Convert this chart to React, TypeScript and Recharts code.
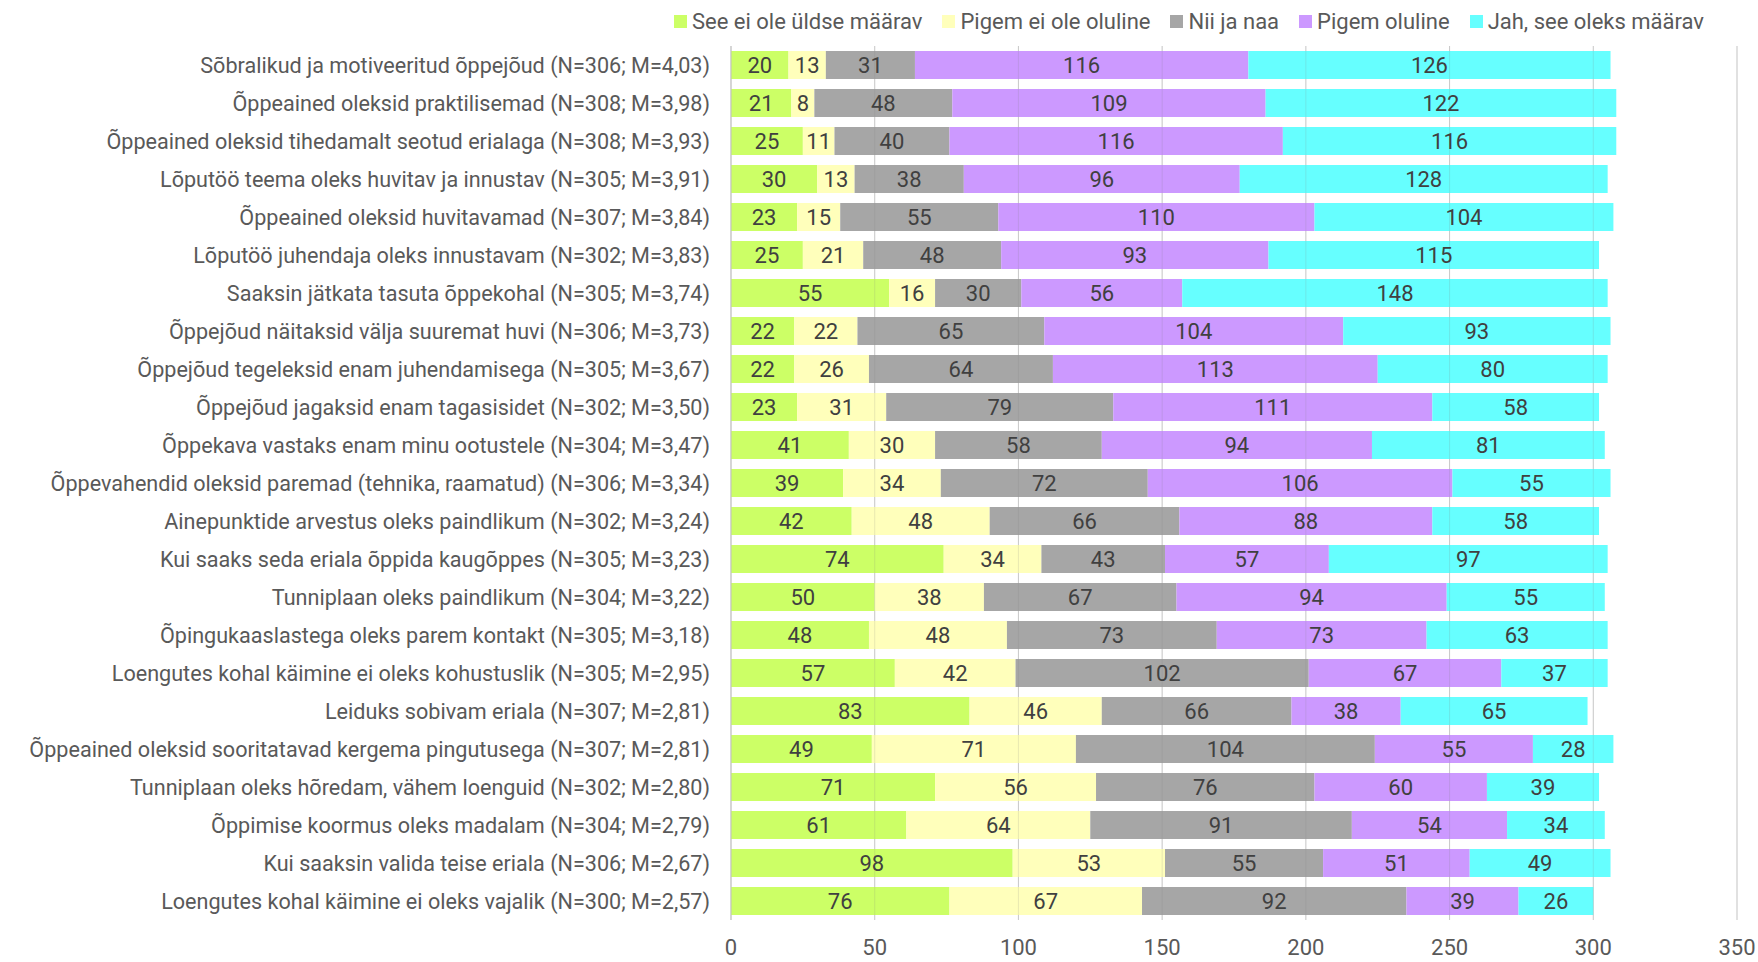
import React from "react";
import {
  Bar,
  BarChart,
  CartesianGrid,
  LabelList,
  ReferenceLine,
  XAxis,
  YAxis,
} from "recharts";

const categories = [
  "Sõbralikud ja motiveeritud õppejõud (N=306; M=4,03)",
  "Õppeained oleksid praktilisemad (N=308; M=3,98)",
  "Õppeained oleksid tihedamalt seotud erialaga (N=308; M=3,93)",
  "Lõputöö teema oleks huvitav ja innustav (N=305; M=3,91)",
  "Õppeained oleksid huvitavamad (N=307; M=3,84)",
  "Lõputöö juhendaja oleks innustavam (N=302; M=3,83)",
  "Saaksin jätkata tasuta õppekohal (N=305; M=3,74)",
  "Õppejõud näitaksid välja suuremat huvi (N=306; M=3,73)",
  "Õppejõud tegeleksid enam juhendamisega (N=305; M=3,67)",
  "Õppejõud jagaksid enam tagasisidet (N=302; M=3,50)",
  "Õppekava vastaks enam minu ootustele (N=304; M=3,47)",
  "Õppevahendid oleksid paremad (tehnika, raamatud) (N=306; M=3,34)",
  "Ainepunktide arvestus oleks paindlikum (N=302; M=3,24)",
  "Kui saaks seda eriala õppida kaugõppes (N=305; M=3,23)",
  "Tunniplaan oleks paindlikum (N=304; M=3,22)",
  "Õpingukaaslastega oleks parem kontakt (N=305; M=3,18)",
  "Loengutes kohal käimine ei oleks kohustuslik (N=305; M=2,95)",
  "Leiduks sobivam eriala (N=307; M=2,81)",
  "Õppeained oleksid sooritatavad kergema pingutusega (N=307; M=2,81)",
  "Tunniplaan oleks hõredam, vähem loenguid (N=302; M=2,80)",
  "Õppimise koormus oleks madalam (N=304; M=2,79)",
  "Kui saaksin valida teise eriala (N=306; M=2,67)",
  "Loengutes kohal käimine ei oleks vajalik (N=300; M=2,57)",
];

const notAtAll = [20, 21, 25, 30, 23, 25, 55, 22, 22, 23, 41, 39, 42, 74, 50, 48, 57, 83, 49, 71, 61, 98, 76];
const ratherNot = [13, 8, 11, 13, 15, 21, 16, 22, 26, 31, 30, 34, 48, 34, 38, 48, 42, 46, 71, 56, 64, 53, 67];
const neutral = [31, 48, 40, 38, 55, 48, 30, 65, 64, 79, 58, 72, 66, 43, 67, 73, 102, 66, 104, 76, 91, 55, 92];
const rather = [116, 109, 116, 96, 110, 93, 56, 104, 113, 111, 94, 106, 88, 57, 94, 73, 67, 38, 55, 60, 54, 51, 39];
const decisive = [126, 122, 116, 128, 104, 115, 148, 93, 80, 58, 81, 55, 58, 97, 55, 63, 37, 65, 28, 39, 34, 49, 26];

const xTicks = [0, 50, 100, 150, 200, 250, 300, 350];

const series = [
  { key: "a", name: "See ei ole üldse määrav", color: "#CCFF66", values: notAtAll },
  { key: "b", name: "Pigem ei ole oluline", color: "#FFFFBB", values: ratherNot },
  { key: "c", name: "Nii ja naa", color: "#A6A6A6", values: neutral },
  { key: "d", name: "Pigem oluline", color: "#CC99FF", values: rather },
  { key: "e", name: "Jah, see oleks määrav", color: "#66FFFF", values: decisive },
];

const data = categories.map((cat, i) => {
  const row: Record<string, string | number> = { cat };
  series.forEach((s) => (row[s.key] = s.values[i]));
  return row;
});

const FONT = "Roboto, sans-serif";
const FS = 22;

function YTick({ x, y, payload }: any) {
  return (
    <text
      x={x}
      y={y}
      dx={-13}
      dy={8}
      textAnchor="end"
      fontFamily={FONT}
      fontSize={21.6}
      fill="#595959"
    >
      {payload.value}
    </text>
  );
}

export default function App() {
  return (
    <div
      style={{
        position: "absolute",
        left: 0,
        top: 0,
        width: 1758,
        height: 962,
        background: "#fff",
        fontFamily: FONT,
      }}
    >
      <div
        style={{
          position: "absolute",
          left: 674,
          top: 9,
          display: "flex",
          alignItems: "center",
          fontSize: FS,
          color: "#595959",
          whiteSpace: "nowrap",
        }}
      >
        {series.map((s) => (
          <div
            key={s.key}
            style={{ display: "flex", alignItems: "center", marginRight: 20 }}
          >
            <span
              style={{
                width: 13,
                height: 13,
                background: s.color,
                marginRight: 5,
                display: "inline-block",
              }}
            />
            {s.name}
          </div>
        ))}
      </div>
      <BarChart
        width={1758}
        height={962}
        data={data}
        layout="vertical"
        margin={{ top: 46, right: 21, bottom: 12, left: 0 }}
        barSize={28}
      >
        <CartesianGrid horizontal={false} stroke="#D9D9D9" />
        <XAxis
          type="number"
          domain={[0, 350]}
          ticks={xTicks}
          axisLine={false}
          tickLine={false}
          tickMargin={13}
          tick={{ fill: "#595959", fontSize: FS, fontFamily: FONT }}
        />
        <YAxis
          type="category"
          dataKey="cat"
          width={731}
          tickLine={false}
          axisLine={{ stroke: "#BFBFBF" }}
          tick={<YTick />}
          interval={0}
        />
        {series.map((s) => (
          <Bar
            key={s.key}
            dataKey={s.key}
            name={s.name}
            stackId="x"
            fill={s.color}
            isAnimationActive={false}
          >
            <LabelList
              dataKey={s.key}
              position="center"
              fill="#404040"
              fontSize={FS}
              fontFamily={FONT}
            />
          </Bar>
        ))}
        {xTicks.slice(1).map((t) => (
          <ReferenceLine
            key={t}
            x={t}
            stroke="#808080"
            strokeOpacity={0.18}
          />
        ))}
      </BarChart>
    </div>
  );
}
